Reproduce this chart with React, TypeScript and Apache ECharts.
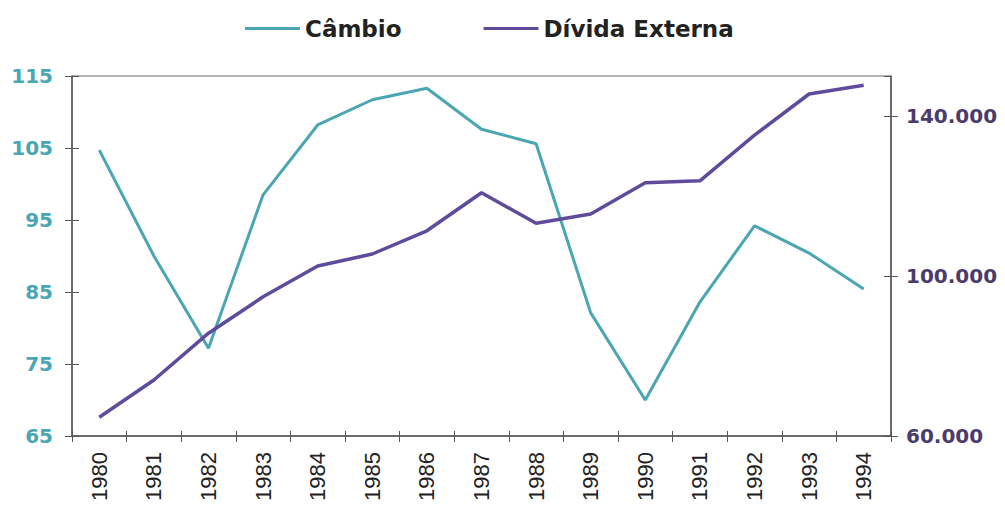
import React, { useEffect, useRef } from "react";
import * as echarts from "echarts";

const years = ["1980","1981","1982","1983","1984","1985","1986","1987","1988","1989","1990","1991","1992","1993","1994"];
const cambio = [104.7, 90.0, 77.2, 98.5, 108.2, 111.7, 113.3, 107.6, 105.6, 82.1, 70.0, 83.6, 94.2, 90.4, 85.4];
const divida = [64700, 74000, 85700, 94800, 102500, 105500, 111300, 120800, 113200, 115500, 123300, 123800, 135200, 145500, 147700];

const TEAL = "#4aa6b2";
const PURPLE = "#5f4b9c";
const AX = "#555";

const thousands = (v: number) => String(v).replace(/\B(?=(\d{3})+(?!\d))/g, ".");

export default function App() {
  const ref = useRef<HTMLDivElement>(null);
  useEffect(() => {
    const chart = echarts.init(ref.current!, null, { renderer: "svg" });
    const leftBase = { type: "value", min: 65, max: 115, interval: 10, position: "left", splitLine: { show: false } };
    const rightBase = { type: "value", min: 60000, max: 150000, interval: 40000, position: "right", splitLine: { show: false } };
    chart.setOption({
      animation: false,
      backgroundColor: "#ffffff",
      legend: {
        top: 12,
        left: 240,
        itemWidth: 55,
        itemHeight: 14,
        itemGap: 82,
        textStyle: { fontFamily: "DejaVu Sans", fontWeight: "bold", fontSize: 23, color: "#222" },
        data: [
          { name: "Câmbio", icon: "path://M0,6 L55,6 L55,9 L0,9 Z", itemStyle: { color: TEAL } },
          { name: "Dívida Externa", icon: "path://M0,6 L55,6 L55,9 L0,9 Z", itemStyle: { color: PURPLE } },
        ],
      },
      grid: { left: 72, right: 114, top: 76, bottom: 73, show: true, borderColor: "#666", borderWidth: 1 },
      xAxis: [
        {
          type: "category",
          data: years,
          boundaryGap: true,
          axisLine: { lineStyle: { color: AX, width: 1.5 } },
          axisTick: { show: true, length: 6, lineStyle: { color: AX } },
          axisLabel: { rotate: 90, margin: 16, fontFamily: "Liberation Sans, Arial, sans-serif", fontSize: 22, color: "#222" },
        },
        {
          type: "category",
          data: years,
          boundaryGap: true,
          position: "bottom",
          axisLine: { show: false },
          axisTick: { show: true, inside: true, length: 5, lineStyle: { color: AX } },
          axisLabel: { show: false },
        },
      ],
      yAxis: [
        {
          ...leftBase,
          axisLine: { show: true, lineStyle: { color: AX, width: 1.5 } },
          axisTick: { show: true, length: 7, lineStyle: { color: AX } },
          axisLabel: { margin: 19, fontFamily: "DejaVu Sans", fontWeight: "bold", fontSize: 20, color: TEAL },
        },
        {
          ...rightBase,
          axisLine: { show: true, lineStyle: { color: AX, width: 1.5 } },
          axisTick: { show: true, length: 7, lineStyle: { color: AX } },
          axisLabel: {
            showMaxLabel: false,
            margin: 15,
            fontFamily: "DejaVu Sans",
            fontWeight: "bold",
            fontSize: 20,
            color: "#4a3c6e",
            formatter: thousands,
          },
        },
        {
          ...leftBase,
          axisLine: { show: false },
          axisTick: { show: true, inside: true, length: 7, lineStyle: { color: AX } },
          axisLabel: { show: false },
        },
        {
          ...rightBase,
          axisLine: { show: false },
          axisTick: { show: true, inside: true, length: 7, lineStyle: { color: AX } },
          axisLabel: { show: false },
        },
      ],
      series: [
        {
          name: "Câmbio",
          type: "line",
          yAxisIndex: 0,
          data: cambio,
          symbol: "none",
          lineStyle: { color: TEAL, width: 3 },
          itemStyle: { color: TEAL },
        },
        {
          name: "Dívida Externa",
          type: "line",
          yAxisIndex: 1,
          data: divida,
          symbol: "none",
          lineStyle: { color: PURPLE, width: 3.5 },
          itemStyle: { color: PURPLE },
        },
      ],
    });
    return () => chart.dispose();
  }, []);
  return <div ref={ref} style={{ width: 1005, height: 509, position: "absolute", left: 0, top: 0 }} />;
}
